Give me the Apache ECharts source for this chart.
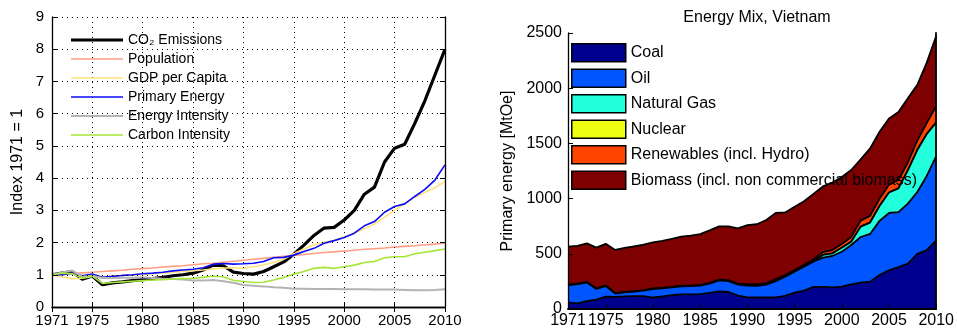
<!DOCTYPE html>
<html><head><meta charset="utf-8">
<script src="https://cdn.jsdelivr.net/npm/echarts@6/dist/echarts.min.js"></script>
<style>html,body{margin:0;padding:0;background:#fff}#c{width:957px;height:330px}</style>
</head><body><div id="c"></div>
<script>
const years = ['1971','1972','1973','1974','1975','1976','1977','1978','1979','1980','1981','1982','1983','1984','1985','1986','1987','1988','1989','1990','1991','1992','1993','1994','1995','1996','1997','1998','1999','2000','2001','2002','2003','2004','2005','2006','2007','2008','2009','2010'];

// Left chart: index 1971 = 1
const co2 = [1.00,1.05,1.10,0.86,0.96,0.69,0.75,0.78,0.82,0.85,0.88,0.92,0.97,1.00,1.05,1.15,1.30,1.28,1.08,1.04,1.02,1.10,1.25,1.40,1.64,1.92,2.22,2.45,2.47,2.70,3.00,3.50,3.72,4.50,4.93,5.05,5.70,6.40,7.20,8.00];
const population = [1.00,1.02,1.04,1.06,1.08,1.10,1.12,1.14,1.17,1.19,1.21,1.24,1.26,1.28,1.31,1.34,1.36,1.39,1.42,1.45,1.48,1.51,1.54,1.57,1.60,1.63,1.66,1.69,1.71,1.74,1.76,1.79,1.81,1.83,1.86,1.88,1.90,1.93,1.95,1.98];
const gdpPerCapita = [1.00,0.93,0.88,0.89,0.95,0.94,0.96,0.98,0.99,1.01,1.03,1.06,1.08,1.10,1.13,1.15,1.18,1.21,1.22,1.20,1.25,1.31,1.38,1.48,1.66,1.80,1.93,2.01,2.07,2.17,2.29,2.43,2.58,2.78,3.00,3.20,3.40,3.56,3.70,3.90];
const primaryEnergy = [1.00,1.00,1.05,0.97,1.02,0.92,0.95,0.98,1.00,1.03,1.05,1.08,1.12,1.15,1.17,1.22,1.33,1.35,1.33,1.34,1.36,1.41,1.53,1.54,1.61,1.72,1.82,1.98,2.06,2.16,2.29,2.52,2.65,2.94,3.12,3.20,3.43,3.65,3.94,4.41];
const energyIntensity = [1.00,1.07,1.13,0.94,0.97,0.90,0.90,0.91,0.91,0.92,0.90,0.88,0.87,0.85,0.82,0.82,0.84,0.80,0.75,0.68,0.66,0.64,0.61,0.60,0.57,0.57,0.56,0.56,0.56,0.55,0.55,0.55,0.54,0.54,0.54,0.53,0.52,0.52,0.53,0.55];
const carbonIntensity = [1.00,1.05,1.03,0.90,0.96,0.73,0.76,0.78,0.80,0.82,0.84,0.85,0.87,0.88,0.89,0.92,0.96,0.93,0.83,0.79,0.76,0.77,0.84,0.92,1.02,1.10,1.20,1.23,1.20,1.25,1.30,1.38,1.41,1.53,1.56,1.56,1.65,1.70,1.75,1.80];

// Right chart: energy mix (stacked)
const coal = [60,51,72,85,112,110,115,117,116,104,114,126,132,132,134,146,160,154,122,106,104,104,105,118,148,166,200,200,195,202,224,238,248,308,350,380,412,500,534,622];
const oil = [155,174,168,97,96,30,35,40,50,77,73,70,74,75,78,84,100,99,98,106,106,116,147,175,190,217,229,265,285,317,356,414,432,490,520,498,543,560,671,763];
const naturalGas = [0,0,0,0,0,0,0,0,0,0,0,0,0,0,0,0,0,0,0,0,0,0,0,0,0,2,5,25,24,35,30,94,103,135,185,215,300,380,380,305];
const nuclear = [0,0,0,0,0,0,0,0,0,0,0,0,0,0,0,0,0,0,0,0,0,0,0,0,0,0,0,0,0,0,0,0,0,0,0,0,0,0,0,0];
const renewables = [5,5,5,5,5,5,5,5,5,5,5,5,5,5,6,6,7,8,10,12,14,15,20,15,15,15,16,25,30,35,42,55,60,65,70,75,72,85,100,150];
const biomass = [345,341,350,369,377,390,398,406,411,417,425,435,445,452,460,476,481,487,501,536,544,571,598,567,574,576,593,595,611,607,607,555,612,607,600,616,581,505,547,633];

const leftTicks = ['0','1','2','3','4','5','6','7','8','9'];
const rightTicks = ['0','500','1000','1500','2000','2500'];

const FONT = 'Liberation Sans';
const showYear = (i, v) => { const y = +v; return y === 1971 || y % 5 === 0; };
const gridYear = (i, v) => { const y = +v; return y !== 1971 && y !== 2010 && y % 5 === 0; };

const leftLines = [
  {name: 'CO₂ Emissions', data: co2, color: '#000000', width: 3.2},
  {name: 'Population', data: population, color: '#ff9e80', width: 1.6},
  {name: 'GDP per Capita', data: gdpPerCapita, color: '#ffe37a', width: 1.6},
  {name: 'Primary Energy', data: primaryEnergy, color: '#0a0aff', width: 1.6},
  {name: 'Energy Intensity', data: energyIntensity, color: '#b3b3b3', width: 2},
  {name: 'Carbon Intensity', data: carbonIntensity, color: '#a3e635', width: 1.6}
];
const drawOrder = [0,1,2,3,4,5];

const areas = [
  {name: 'Coal', data: coal, color: '#00008f'},
  {name: 'Oil', data: oil, color: '#0055ff'},
  {name: 'Natural Gas', data: naturalGas, color: '#22ffdd'},
  {name: 'Nuclear', data: nuclear, color: '#eeff11'},
  {name: 'Renewables (incl. Hydro)', data: renewables, color: '#ff4400'},
  {name: 'Biomass (incl. non commercial biomass)', data: biomass, color: '#7f0000'}
];

const tickLbl = {fontFamily: FONT, fontSize: 15, color: '#000'};
const tickLblR = {fontFamily: FONT, fontSize: 16, color: '#000'};
const axLine = {show: true, lineStyle: {color: '#000', width: 1.3}};
const dotted = {show: true, lineStyle: {color: '#000', width: 1, type: [1, 4]}};

const option = {
  animation: false,
  backgroundColor: '#fff',
  title: {
    text: 'Energy Mix, Vietnam', left: 752, top: 5, textAlign: 'center',
    textStyle: {fontFamily: FONT, fontSize: 16, fontWeight: 'normal', color: '#000'}
  },
  grid: [
    {left: 52, right: 512, top: 17, bottom: 23},
    {left: 568, right: 20, top: 33, bottom: 21}
  ],
  legend: [
    {
      orient: 'vertical', left: 71, top: 33, padding: 0, itemGap: 5,
      itemWidth: 52, itemHeight: 14, z: 20,
      textStyle: {fontFamily: FONT, fontSize: 14, color: '#000'},
      data: leftLines.map(s => ({name: s.name, icon: 'path://M0,0H52V' + s.width + 'H0Z'}))
    },
    {
      orient: 'vertical', left: 571, top: 43, padding: 0, itemGap: 6,
      itemWidth: 54, itemHeight: 18, z: 20, icon: 'rect',
      itemStyle: {borderColor: '#000', borderWidth: 1.5},
      textStyle: {fontFamily: FONT, fontSize: 16, color: '#000'},
      data: areas.map(s => s.name)
    }
  ],
  xAxis: [
    {
      gridIndex: 0, type: 'category', data: years, boundaryGap: false, z: 20,
      axisLine: axLine,
      axisTick: {show: true, inside: true, length: 5, interval: showYear, lineStyle: {color: '#000'}},
      axisLabel: Object.assign({interval: showYear, margin: 6}, tickLbl),
      splitLine: Object.assign({interval: gridYear}, dotted)
    },
    {
      gridIndex: 0, type: 'category', data: years, boundaryGap: false, position: 'top', z: 20,
      axisLine: axLine,
      axisTick: {show: true, inside: true, length: 5, interval: showYear, lineStyle: {color: '#000'}},
      axisLabel: {show: false}, splitLine: {show: false}
    },
    {
      gridIndex: 1, type: 'category', data: years, boundaryGap: false, z: 20,
      axisLine: {show: true, lineStyle: {color: '#000', width: 1.8}},
      axisTick: {show: true, inside: true, length: 5, interval: showYear, lineStyle: {color: '#000'}},
      axisLabel: Object.assign({interval: showYear, margin: 4}, tickLblR),
      splitLine: {show: false}
    }
  ],
  yAxis: [
    {
      gridIndex: 0, type: 'value', min: 0, max: 9, interval: 1, z: 20,
      name: 'Index 1971 = 1', nameLocation: 'middle', nameGap: 26,
      nameTextStyle: {fontFamily: FONT, fontSize: 16, color: '#000'},
      axisLine: axLine,
      axisTick: {show: true, inside: true, length: 5, lineStyle: {color: '#000'}},
      axisLabel: Object.assign({margin: 8, formatter: v => leftTicks[Math.round(v)]}, tickLbl),
      splitLine: dotted
    },
    {
      gridIndex: 0, type: 'value', min: 0, max: 9, interval: 1, position: 'right', z: 20,
      axisLine: axLine,
      axisTick: {show: true, inside: true, length: 5, lineStyle: {color: '#000'}},
      axisLabel: {show: false}, splitLine: {show: false}
    },
    {
      gridIndex: 1, type: 'value', min: 0, max: 2500, interval: 500, z: 20,
      name: 'Primary energy [MtOe]', nameLocation: 'middle', nameGap: 52,
      nameTextStyle: {fontFamily: FONT, fontSize: 16, color: '#000'},
      axisLine: {show: true, lineStyle: {color: '#000', width: 1.3}},
      axisTick: {show: true, inside: true, length: 5, lineStyle: {color: '#000'}},
      axisLabel: Object.assign({margin: 6, formatter: v => rightTicks[Math.round(v / 500)]}, tickLblR),
      splitLine: {show: false}
    },
    {
      gridIndex: 1, type: 'value', min: 0, max: 2500, interval: 500, position: 'right', z: 20,
      axisLine: {show: true, lineStyle: {color: '#000', width: 1.8}},
      axisTick: {show: false}, axisLabel: {show: false}, splitLine: {show: false}
    }
  ],
  series: [
    ...drawOrder.map(i => {
      const s = leftLines[i];
      return {
        name: s.name, type: 'line', xAxisIndex: 0, yAxisIndex: 0, data: s.data,
        symbol: 'none', z: 3,
        itemStyle: {color: s.color},
        lineStyle: {color: s.color, width: s.width}
      };
    }),
    ...areas.map((s, i) => ({
      name: s.name, type: 'line', xAxisIndex: 2, yAxisIndex: 2, data: s.data,
      stack: 'mix', symbol: 'none', z: 10 - i,
      itemStyle: {color: s.color},
      lineStyle: {color: '#000', width: 1.8},
      areaStyle: {color: s.color, opacity: 1}
    }))
  ]
};

const chart = echarts.init(document.getElementById('c'), null, {renderer: 'canvas'});
chart.setOption(option);
</script>
</body></html>
